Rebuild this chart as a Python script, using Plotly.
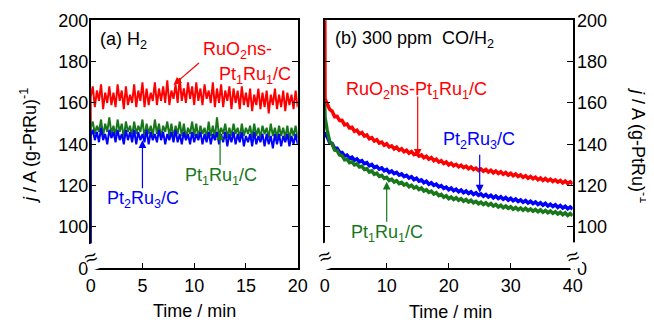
import plotly.graph_objects as go

# ---------------- data ----------------
# (a) H2, sampled every 0.2 min, first point is the start-up (0 current)
time_a = [0.0] + [round(0.2 * i, 1) for i in range(101)]
red_a = [0, 163,
         168, 158, 166, 161, 169, 157, 165, 160, 168, 159,
         165, 158, 169, 161, 166, 157, 168, 159, 164, 160,
         169, 158, 166, 161, 170, 158, 167, 159, 165, 161,
         170, 159, 167, 161, 168, 160, 171, 159, 166, 162,
         169, 160, 172, 161, 167, 160, 170, 162, 168, 159,
         170, 161, 167, 159, 169, 162, 166, 160, 170, 158,
         167, 160, 169, 158, 166, 161, 168, 157, 167, 160,
         166, 157, 168, 159, 165, 158, 167, 156, 164, 159,
         167, 157, 165, 158, 166, 155, 164, 159, 167, 157,
         164, 158, 166, 156, 165, 159, 164, 157, 166, 158]
green_a = [0, 148,
           151, 145, 149, 146, 152, 144, 150, 146, 153, 145,
           149, 144, 152, 146, 150, 143, 151, 146, 149, 144,
           151, 145, 149, 146, 152, 143, 150, 145, 149, 144,
           152, 145, 150, 143, 149, 146, 151, 144, 150, 143,
           149, 145, 151, 144, 150, 143, 148, 145, 151, 144,
           150, 143, 149, 145, 148, 143, 151, 144, 149, 143,
           153, 144, 148, 145, 150, 143, 148, 144, 150, 145,
           148, 143, 150, 144, 148, 145, 149, 143, 150, 144,
           148, 143, 149, 145, 148, 143, 150, 144, 148, 143,
           149, 144, 148, 143, 149, 142, 148, 144, 149, 143]
blue_a = [0, 144,
          147, 142, 146, 141, 148, 142, 145, 140, 147, 143,
          146, 141, 147, 142, 145, 140, 147, 142, 146, 141,
          147, 140, 146, 142, 145, 141, 147, 140, 146, 142,
          145, 141, 147, 142, 146, 140, 145, 142, 146, 141,
          147, 141, 145, 140, 146, 142, 145, 140, 146, 141,
          145, 142, 146, 140, 145, 141, 146, 140, 145, 142,
          146, 140, 145, 141, 146, 139, 145, 141, 146, 140,
          145, 141, 146, 139, 144, 141, 145, 139, 146, 140,
          144, 141, 145, 139, 145, 140, 144, 138, 145, 140,
          145, 139, 144, 141, 145, 139, 144, 140, 145, 140]

# (b) 300 ppm CO/H2, sampled every 0.4 min after the initial transient
time_b = [0.0, 0.05] + [round(0.4 * i, 1) for i in range(1, 101)]
red_b = [230, 162,
         159.6, 156.9, 156.0, 153.4, 153.5, 151.5, 151.6, 149.4, 149.8, 147.9,
         148.2, 146.3, 146.8, 145.1, 145.7, 144.0, 144.5, 142.7, 143.2, 141.6,
         142.2, 140.6, 141.1, 139.5, 140.2, 138.7, 139.2, 137.8, 138.6, 137.1,
         137.8, 136.4, 137.1, 135.7, 136.5, 135.0, 135.6, 134.3, 134.9, 133.5,
         134.2, 132.8, 133.6, 132.1, 132.8, 131.4, 132.1, 130.7, 131.4, 130.0,
         130.8, 129.6, 130.3, 129.1, 129.9, 128.7, 129.4, 128.2, 129.0, 127.8,
         128.5, 127.3, 128.1, 127.0, 127.8, 126.6, 127.4, 126.2, 127.1, 125.9,
         126.7, 125.5, 126.3, 125.1, 126.0, 124.8, 125.6, 124.4, 125.2, 124.0,
         124.8, 123.6, 124.4, 123.3, 124.1, 122.9, 123.7, 122.5, 123.4, 122.3,
         123.1, 122.0, 122.8, 121.7, 122.5, 121.3, 122.2, 121.0, 121.9, 120.8]
blue_b = [146, 145,
          143.6, 140.8, 140.4, 138.1, 138.1, 136.2, 136.1, 134.3, 134.8, 133.2,
          133.8, 132.3, 132.9, 131.5, 132.1, 130.6, 131.1, 129.6, 130.2, 128.7,
          129.3, 128.0, 128.6, 127.2, 127.8, 126.4, 127.1, 125.8, 126.4, 125.1,
          125.7, 124.4, 125.0, 123.7, 124.3, 122.9, 123.6, 122.2, 122.8, 121.4,
          122.1, 120.7, 121.4, 120.1, 120.7, 119.4, 120.0, 118.7, 119.3, 118.0,
          118.8, 117.5, 118.3, 117.1, 117.9, 116.6, 117.4, 116.2, 117.0, 115.7,
          116.5, 115.3, 116.0, 114.9, 115.7, 114.5, 115.3, 114.1, 115.0, 113.8,
          114.6, 113.4, 114.2, 113.0, 113.9, 112.7, 113.5, 112.3, 113.1, 112.0,
          112.8, 111.6, 112.4, 111.3, 112.1, 110.9, 111.7, 110.5, 111.4, 110.2,
          111.0, 109.9, 110.7, 109.5, 110.4, 109.2, 110.0, 108.8, 109.7, 108.6]
green_b = [160, 153,
           146.9, 141.3, 140.1, 137.2, 136.9, 134.8, 134.5, 132.5, 132.8, 131.1,
           131.5, 130.0, 130.5, 129.0, 129.4, 127.8, 128.2, 126.6, 127.1, 125.5,
           126.0, 124.5, 125.0, 123.5, 124.0, 122.5, 123.1, 121.7, 122.4, 121.0,
           121.6, 120.3, 120.9, 119.5, 120.2, 118.8, 119.5, 118.1, 118.8, 117.4,
           118.0, 116.7, 117.3, 115.9, 116.6, 115.2, 115.8, 114.4, 115.1, 113.7,
           114.5, 113.3, 114.1, 112.9, 113.7, 112.5, 113.3, 112.1, 112.9, 111.7,
           112.4, 111.2, 112.0, 110.9, 111.7, 110.5, 111.3, 110.1, 110.9, 109.7,
           110.5, 109.3, 110.1, 109.0, 109.8, 108.6, 109.4, 108.3, 109.2, 108.1,
           109.0, 107.9, 108.7, 107.6, 108.5, 107.4, 108.3, 107.1, 108.0, 106.9,
           107.7, 106.6, 107.4, 106.3, 107.1, 105.9, 106.8, 105.6, 106.5, 105.4]

y_tickvals = [80, 100, 120, 140, 160, 180, 200]
y_ticktext = ["0", "100", "120", "140", "160", "180", "200"]
xa_ticks = [0, 5, 10, 15, 20]
xb_ticks = [0, 10, 20, 30, 40]

RED = "#ff0000"
BLUE = "#0000ff"
GREEN = "#17771a"
FONT = "Liberation Sans, Arial, sans-serif"
FS = 18

# the page body has an 8px margin: figure size/positions are set so that the
# visible picture (654x323 window) matches the reference
W, H, OFF = 646, 315, 8
def px(xp):
    return (xp - OFF) / W
def py(yp):
    return (H - (yp - OFF)) / H

fig = go.Figure()
fig.add_trace(go.Scatter(x=time_a, y=red_a, mode="lines", line=dict(color=RED, width=2), xaxis="x", yaxis="y"))
fig.add_trace(go.Scatter(x=time_a, y=green_a, mode="lines", line=dict(color=GREEN, width=2), xaxis="x", yaxis="y"))
fig.add_trace(go.Scatter(x=time_a, y=blue_a, mode="lines", line=dict(color=BLUE, width=2), xaxis="x", yaxis="y"))
fig.add_trace(go.Scatter(x=time_b, y=blue_b, mode="lines", line=dict(color=BLUE, width=3.5), xaxis="x2", yaxis="y2"))
fig.add_trace(go.Scatter(x=time_b, y=green_b, mode="lines", line=dict(color=GREEN, width=3.5), xaxis="x2", yaxis="y2"))
fig.add_trace(go.Scatter(x=time_b, y=red_b, mode="lines", line=dict(color=RED, width=3.5), xaxis="x2", yaxis="y2"))

ax_common = dict(showgrid=False, zeroline=False, showline=True, linecolor="black", linewidth=1.5,
                 ticks="inside", ticklen=6, tickwidth=1.2, tickcolor="black", automargin=False,
                 tickfont=dict(family=FONT, size=FS, color="black"))

ydom = [py(268.3), py(20.3)]
fig.update_layout(
    width=W, height=H, showlegend=False,
    margin=dict(l=0, r=0, t=0, b=0, autoexpand=False),
    paper_bgcolor="white", plot_bgcolor="white",
    font=dict(family=FONT, size=FS, color="black"),
    xaxis=dict(domain=[px(90.7), px(297.7)], range=[0, 20], tickvals=xa_ticks, mirror=True, anchor="y",
               ticklabelstandoff=0, **ax_common),
    yaxis=dict(domain=ydom, range=[80, 200], tickvals=y_tickvals, ticktext=y_ticktext,
               mirror="ticks", anchor="x", ticklabelstandoff=-3, **ax_common),
    xaxis2=dict(domain=[px(324.7), px(572.7)], range=[0, 40], tickvals=xb_ticks, mirror=True, anchor="y2",
                ticklabelstandoff=0, **ax_common),
    yaxis2=dict(domain=ydom, range=[80, 200], tickvals=y_tickvals, ticktext=y_ticktext,
                mirror="ticks", anchor="x2", side="right", ticklabelstandoff=-1, **ax_common),
)

ann = []
def txt(text, x, y, color, xref="x", yref="y", xanchor="center", **kw):
    ann.append(dict(text=text, x=x, y=y, xref=xref, yref=yref, showarrow=False, xanchor=xanchor,
                    yanchor="middle", font=dict(family=FONT, size=FS, color=color), **kw))

def arrow(xh, yh, xt, yt, color, xref="x", yref="y"):
    ann.append(dict(text="", x=xh, y=yh, ax=xt, ay=yt, xref=xref, yref=yref, axref=xref, ayref=yref,
                    showarrow=True, arrowhead=2, arrowsize=1.3, arrowwidth=1.2, arrowcolor=color))

# panel (a)
txt("(a) H<sub>2</sub>", 0.7, 190, "black", xanchor="left")
txt("RuO<sub>2</sub>ns-", 14.2, 185.6, RED)
txt("Pt<sub>1</sub>Ru<sub>1</sub>/C", 15.9, 173.5, RED)
arrow(8.0, 168.7, 10.6, 180, RED)
txt("Pt<sub>2</sub>Ru<sub>3</sub>/C", 5.05, 113.1, BLUE)
arrow(5, 142, 5, 118, BLUE)
txt("Pt<sub>1</sub>Ru<sub>1</sub>/C", 12.6, 124.2, GREEN)
arrow(12.5, 146, 12.5, 129.2, GREEN)

# panel (b)
txt("(b) 300 ppm  CO/H<sub>2</sub>", 1.3, 190.5, "black", xref="x2", yref="y2", xanchor="left")
txt("RuO<sub>2</sub>ns-Pt<sub>1</sub>Ru<sub>1</sub>/C", 14.8, 165.8, RED, xref="x2", yref="y2")
arrow(15, 134, 15, 163.9, RED, xref="x2", yref="y2")
txt("Pt<sub>2</sub>Ru<sub>3</sub>/C", 24.9, 142, BLUE, xref="x2", yref="y2")
arrow(25, 116.6, 25, 135.7, BLUE, xref="x2", yref="y2")
txt("Pt<sub>1</sub>Ru<sub>1</sub>/C", 10.05, 96.7, GREEN, xref="x2", yref="y2")
arrow(10, 121.9, 10, 101.8, GREEN, xref="x2", yref="y2")

# axis break marks
for xr, yr, xv, yv in [("x", "y", 0, 85), ("x2", "y2", 0, 85.5), ("x2", "y2", 40, 85.5)]:
    ann.append(dict(text="≈", x=xv, y=yv, xref=xr, yref=yr, showarrow=False, textangle=-20,
                    xanchor="center", yanchor="middle",
                    bgcolor="white", borderpad=0, font=dict(family=FONT, size=22, color="black")))

# axis titles
ytitle = "<i>j</i> / A (g-PtRu)<sup>-1</sup>"
common_t = dict(xref="paper", yref="paper", showarrow=False, xanchor="center", yanchor="middle",
                font=dict(family=FONT, size=FS, color="black"))
ann.append(dict(text=ytitle, x=px(28), y=py(146), textangle=-90, **common_t))
ann.append(dict(text=ytitle, x=px(640), y=py(145), textangle=90, **common_t))
ann.append(dict(text="Time / min", x=px(194), y=py(311), **common_t))
ann.append(dict(text="Time / min", x=px(450), y=py(312), **common_t))

fig.update_layout(annotations=ann)
fig.write_html("out.html")
